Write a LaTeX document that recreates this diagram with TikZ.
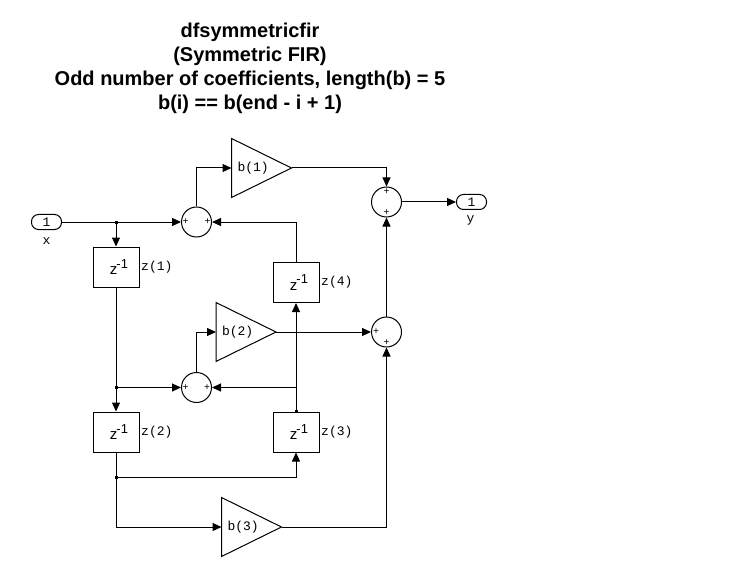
\documentclass[tikz,border=0pt]{standalone}
\usepackage{fontspec}
\setmainfont{Liberation Sans}
\newfontfamily\monofont{Liberation Mono}
\usetikzlibrary{arrows.meta,positioning}

\newcommand\zinv{{\kern6pt\fontsize{15}{15}\selectfont z\raisebox{0.45em}{\fontsize{13}{13}\selectfont\kern-1pt-1}}}

\tikzset{
  line/.style = {line width=1pt},
  wire/.style = {line width=1pt, -{Triangle[length=9pt,width=8pt]}},
  delay/.style = {draw, line width=1pt, minimum width=46pt, minimum height=40pt, inner sep=0pt},
  gain/.style = {inner xsep=6pt, inner ysep=0pt, outer sep=0pt, text width=48pt, align=left,
                 minimum width=60pt, minimum height=59pt, font=\monofont\fontsize{13}{13}\selectfont,
                 append after command={\pgfextra{\draw[line width=1pt] (\tikzlastnode.north west)
                   -- (\tikzlastnode.east) -- (\tikzlastnode.south west) -- cycle;}}},
  sum/.style = {draw, circle, line width=1pt, minimum size=30pt, inner sep=0pt},
  port/.style = {draw, rectangle, rounded corners=7pt, line width=1pt, minimum width=30pt,
                 minimum height=15pt, inner sep=0pt, font=\monofont\fontsize{13}{13}\selectfont},
  plus/.style = {inner sep=0pt, font=\monofont\fontsize{10}{10}\selectfont},
  tag/.style = {inner sep=1.5pt, font=\monofont\fontsize{13}{13}\selectfont},
  dot/.style = {fill, rectangle, minimum size=3pt, inner sep=0pt},
  title/.style = {anchor=base, font=\bfseries\fontsize{20}{24}\selectfont}
}

\begin{document}
\begin{tikzpicture}[x=1pt, y=-1pt]
    \useasboundingbox (0,0) rectangle (751,585);

    % title
    \node[title] (t1) at (250,37.5) {dfsymmetricfir};
    \node[title] (t2) at (250,62) {(Symmetric FIR)};
    \node[title] (t3) at (250,86) {Odd number of coefficients, length(b) = 5};
    \node[title] (t4) at (250,109.5) {b(i) == b(end - i + 1)};

    % ports
    \node[port] (in) at (46.5,222) {1};
    \node[tag] (inlbl) at (46.5,241) {x};
    \node[port] (out) at (471.5,202) {1};
    \node[tag] (outlbl) at (470.5,220) {y};

    % delays
    \node[delay] (z1) at (116,267) {\zinv};
    \node[delay] (z2) at (116,432) {\zinv};
    \node[delay] (z3) at (296,432) {\zinv};
    \node[delay] (z4) at (296,282.5) {\zinv};
    \node[tag, anchor=west] (z1lbl) at (z1.east) {z(1)};
    \node[tag, anchor=west] (z2lbl) at (z2.east) {z(2)};
    \node[tag, anchor=west] (z3lbl) at (z3.east) {z(3)};
    \node[tag, anchor=west] (z4lbl) at (z4.east) {z(4)};

    % gains
    \node[gain] (g1) at (261.5,168) {b(1)};
    \node[gain] (g2) at (246,332) {b(2)};
    \node[gain] (g3) at (251.5,527) {b(3)};

    % sums
    \node[sum] (s1) at (196.5,222) {};
    \node[sum] (sA) at (196.5,387.5) {};
    \node[sum] (sY) at (386.5,202) {};
    \node[sum] (sB) at (386.5,332) {};
    \node[plus] (s1p) at ([xshift=4.5pt]s1.west) {+};
    \node[plus] (s1q) at ([xshift=-4.5pt]s1.east) {+};
    \node[plus] (sAp) at ([xshift=4.5pt]sA.west) {+};
    \node[plus] (sAq) at ([xshift=-5pt]sA.east) {+};
    \node[plus] (sYp) at ([yshift=-5pt]sY.north) {+};
    \node[plus] (sYq) at ([yshift=5pt]sY.south) {+};
    \node[plus] (sBp) at ([xshift=5pt]sB.west) {+};
    \node[plus] (sBq) at ([yshift=4.5pt]sB.south) {+};

    % branch points
    \node[dot] (j1) at (116,222) {};
    \node[dot] (j2) at (116,387.5) {};
    \node[dot] (j3) at (116,477) {};
    \node[dot] (j4) at (z3.north) {};

    % connections
    \draw[wire] (in.east) -- (s1.west);
    \draw[wire] (j1.center) -- (z1.north);
    \draw[wire] (z1.south) -- (z2.north);
    \draw[wire] (j2.center) -- (sA.west);
    \draw[wire] (z2.south) -- (j3.center) -| (z3.south);
    \draw[wire] (j3.center) |- (g3.west);
    \draw[wire] (z3.north) -- (z4.south);
    \draw[wire] (z3.north) |- (sA.east);
    \draw[wire] (z4.north) |- (s1.east);
    \draw[wire] (s1.north) |- (g1.west);
    \draw[wire] (sA.north) |- (g2.west);
    \draw[wire] (g1.east) -| (sY.north);
    \draw[wire] (g2.east) -- (sB.west);
    \draw[wire] (g3.east) -| (sB.south);
    \draw[wire] (sB.north) -- (sY.south);
    \draw[wire] (sY.east) -- (out.west);
\end{tikzpicture}
\end{document}
